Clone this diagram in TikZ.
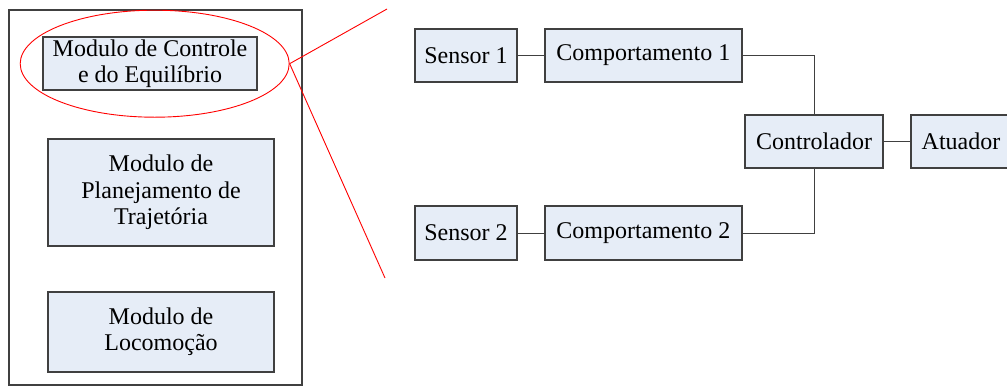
\documentclass[tikz,border=0pt]{standalone}
\usepackage{fontspec}
\setmainfont{Liberation Serif}
\usetikzlibrary{shapes.geometric}
\definecolor{boxfill}{RGB}{230,237,247}
\definecolor{boxline}{RGB}{64,64,64}
\begin{document}
\begin{tikzpicture}[x=1pt,y=-1pt,
  blk/.style={draw=boxline,fill=boxfill,line width=1.2pt,inner sep=0pt,align=center,
    font=\fontsize{24}{26.3}\selectfont},
  wire/.style={draw=boxline,line width=1pt},
  hl/.style={draw=red,line width=0.9pt}]
\useasboundingbox (0,0) rectangle (1007,386);
% left container
\node[draw=boxline,line width=1.1pt,minimum width=293pt,minimum height=375pt,inner sep=0pt] (outer) at (155.5,197.5) {};
\node[blk,minimum width=214pt,minimum height=53pt] (m1) at (150,63.5) {Modulo de Controle\\e do Equilíbrio};
\node[blk,minimum width=226pt,minimum height=107pt] (m2) at (161,192.5) {Modulo de\\Planejamento de\\Trajetória};
\node[blk,minimum width=226pt,minimum height=80pt] (m3) at (161,332) {Modulo de\\Locomoção};
% highlight
\node[hl,ellipse,minimum width=269pt,minimum height=107pt,inner sep=0pt] (ell) at (154.7,63.7) {};
\coordinate (zt) at (387,9);
\coordinate (zb) at (385,278);
\draw[hl] (ell.east) -- (zt);
\draw[hl] (ell.east) -- (zb);
% right diagram
\node[blk,minimum width=102pt,minimum height=53pt] (s1) at (466,55.5) {Sensor 1};
\node[blk,minimum width=197pt,minimum height=53pt] (c1) at (643.4,55.5) {Comportamento 1};
\node[blk,minimum width=138pt,minimum height=53pt] (ctrl) at (814,141.5) {Controlador};
\node[blk,minimum width=100pt,minimum height=53pt] (at) at (961,141.5) {Atuador};
\node[blk,minimum width=102pt,minimum height=54pt] (s2) at (466,233) {Sensor 2};
\node[blk,minimum width=197pt,minimum height=54pt] (c2) at (643.4,233) {Comportamento 2};
\draw[wire] (s1) -- (c1);
\draw[wire] (s2) -- (c2);
\draw[wire] (c1.east) -| (ctrl.north);
\draw[wire] (c2.east) -| (ctrl.south);
\draw[wire] (ctrl) -- (at);
\end{tikzpicture}
\end{document}
